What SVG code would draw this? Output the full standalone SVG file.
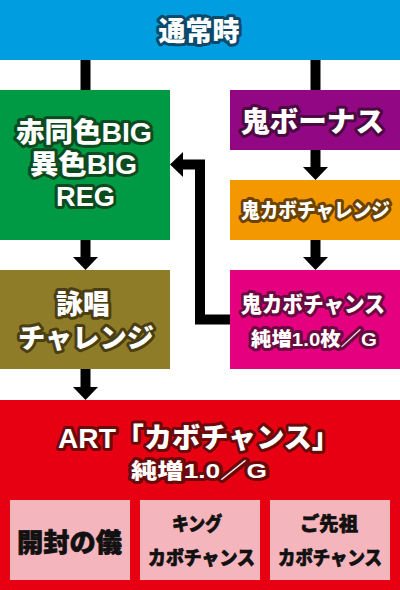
<svg xmlns="http://www.w3.org/2000/svg" width="400" height="590" viewBox="0 0 400 590">
<style>
text{font-family:"Liberation Sans","Noto Sans CJK JP",sans-serif;font-weight:900;text-anchor:middle}
.o{fill:#fff;paint-order:stroke;stroke-width:6;stroke-linejoin:round}
.k{fill:#111;stroke:#111;stroke-width:0.7;stroke-linejoin:round}
.c{fill:none;stroke:#000;stroke-width:10}
</style>
<defs>
<marker id="ah" markerUnits="userSpaceOnUse" markerWidth="14" markerHeight="26" viewBox="0 -13 14 26" refX="0" refY="0" orient="auto" overflow="visible">
<path d="M0,-12.5 L13,0 L0,12.5 Z" fill="#000"/>
</marker>
</defs>
<g id="connectors">
<path class="c" d="M85.5,60 V90"/>
<path class="c" d="M315.5,60 V90"/>
<path class="c" d="M315.5,150 V167" marker-end="url(#ah)"/>
<path class="c" d="M315.5,240 V257" marker-end="url(#ah)"/>
<path class="c" d="M85.5,240 V257" marker-end="url(#ah)"/>
<path class="c" d="M85.5,369 V387" marker-end="url(#ah)"/>
<path class="c" d="M230,319.5 H200 V164.5 H183" marker-end="url(#ah)"/>
</g>
<g id="normal">
<rect x="0" y="0" width="400" height="60" fill="#009de0"/>
<text class="o" x="199" y="41" font-size="27" stroke="#0b4a6b" textLength="81" lengthAdjust="spacingAndGlyphs">通常時</text>
</g>
<g id="big">
<rect x="0" y="90" width="170" height="150" fill="#009944"/>
<text class="o" x="84" y="142" font-size="27" stroke="#0d4a1f" textLength="136" lengthAdjust="spacingAndGlyphs">赤同色BIG</text>
<text class="o" x="83.5" y="174" font-size="27" stroke="#0d4a1f" textLength="107" lengthAdjust="spacingAndGlyphs">異色BIG</text>
<text class="o" x="85.5" y="206" font-size="27" stroke="#0d4a1f" textLength="59" lengthAdjust="spacingAndGlyphs">REG</text>
</g>
<g id="oni-bonus">
<rect x="230" y="90" width="170" height="60" fill="#920783"/>
<text class="o" x="312.5" y="132" font-size="28" stroke="#4a0a40" textLength="143" lengthAdjust="spacingAndGlyphs">鬼ボーナス</text>
</g>
<g id="oni-challenge">
<rect x="230" y="180" width="170" height="60" fill="#f39800"/>
<text class="o" x="315.5" y="218" font-size="20" stroke="#6b4200" textLength="149" lengthAdjust="spacingAndGlyphs">鬼カボチャレンジ</text>
</g>
<g id="eisho">
<rect x="0" y="270" width="170" height="99" fill="#8f7c28"/>
<text class="o" x="83" y="314" font-size="27" stroke="#4a3e12" textLength="54" lengthAdjust="spacingAndGlyphs">詠唱</text>
<text class="o" x="86" y="348" font-size="27" stroke="#4a3e12" textLength="136" lengthAdjust="spacingAndGlyphs">チャレンジ</text>
</g>
<g id="oni-chance">
<rect x="230" y="270" width="170" height="99" fill="#e4007f"/>
<text class="o" x="313" y="312" font-size="21.5" stroke="#6a0a40" textLength="144" lengthAdjust="spacingAndGlyphs">鬼カボチャンス</text>
<text class="o" x="314" y="346" font-size="19" stroke="#6a0a40" textLength="126" lengthAdjust="spacingAndGlyphs">純増1.0枚／G</text>
</g>
<g id="art">
<rect x="0" y="400" width="400" height="190" fill="#e60012"/>
<text class="o" x="199" y="448" font-size="28" stroke="#6a0a0a" textLength="282" lengthAdjust="spacingAndGlyphs">ART「カボチャンス」</text>
<text class="o" x="199" y="478" font-size="21" stroke="#6a0a0a" textLength="136" lengthAdjust="spacingAndGlyphs">純増1.0／G</text>
</g>
<g id="kaifu">
<rect x="10" y="500" width="120" height="80" fill="#f5b5bd"/>
<text class="k" x="69.5" y="552" font-size="26" textLength="105" lengthAdjust="spacingAndGlyphs">開封の儀</text>
</g>
<g id="king">
<rect x="140" y="500" width="120" height="80" fill="#f5b5bd"/>
<text class="k" x="197" y="531" font-size="19" textLength="50" lengthAdjust="spacingAndGlyphs">キング</text>
<text class="k" x="201.5" y="565" font-size="19" textLength="107" lengthAdjust="spacingAndGlyphs">カボチャンス</text>
</g>
<g id="gosenzo">
<rect x="270" y="500" width="120" height="80" fill="#f5b5bd"/>
<text class="k" x="329" y="531" font-size="19" textLength="58" lengthAdjust="spacingAndGlyphs">ご先祖</text>
<text class="k" x="330" y="565" font-size="19" textLength="104" lengthAdjust="spacingAndGlyphs">カボチャンス</text>
</g>
</svg>
